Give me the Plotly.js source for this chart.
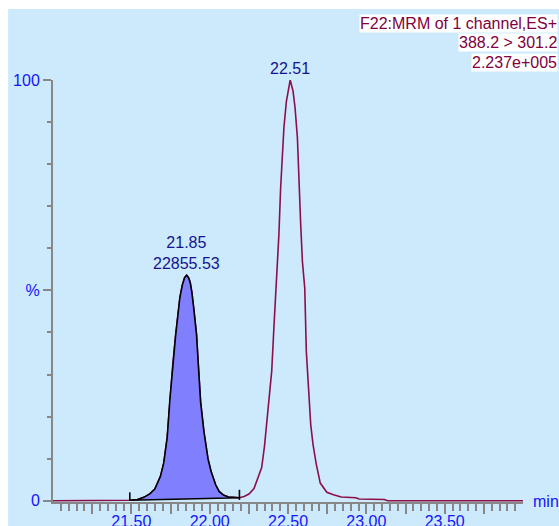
<!DOCTYPE html>
<html>
<head>
<meta charset="utf-8">
<script src="https://cdn.plot.ly/plotly-3.0.1.min.js"></script>
<style>html,body{margin:0;padding:0;background:#fff;}</style>
</head>
<body>
<div id="chart" style="width:559px;height:526px;"></div>
<script>
// Chromatogram (retention time in minutes, relative intensity in %)
const time = [21.00, 21.49, 21.54, 21.58, 21.62, 21.65, 21.686, 21.707, 21.729, 21.746, 21.765, 21.782, 21.797, 21.81, 21.825, 21.84, 21.853, 21.865, 21.876, 21.886, 21.899, 21.916, 21.928, 21.942, 21.963, 21.989, 22.01, 22.038, 22.06, 22.09, 22.12, 22.19,
  22.22, 22.251, 22.283, 22.332, 22.35, 22.368, 22.383, 22.396, 22.41, 22.426, 22.432, 22.442, 22.453, 22.464, 22.474, 22.49, 22.503, 22.514,
  22.532, 22.545, 22.56, 22.57, 22.581, 22.592, 22.607, 22.617, 22.632, 22.645, 22.66, 22.681, 22.706, 22.748, 22.79, 22.84, 22.933, 22.954, 23.114, 23.136, 24.00];
const intensity = [0, 0.1, 0.3, 0.8, 1.7, 2.8, 5.8, 9.0, 15.0, 24.0, 32.5, 39.0, 44.0, 48.3, 51.2, 53.0, 53.6, 53.0, 51.8, 49.6, 45.5, 39.5, 32.0, 23.5, 16.5, 10.0, 6.8, 3.8, 2.2, 1.3, 0.9, 0.7,
  1.0, 1.6, 2.9, 7.9, 13.0, 19.7, 26.0, 30.8, 41.1, 51.4, 56.2, 63.3, 74.4, 83.1, 88.7, 95.0, 98.2, 100,
  97.4, 93.4, 86.3, 75.2, 65.7, 56.9, 50.5, 35.5, 24.4, 18.1, 13.3, 8.6, 4.2, 2.0, 1.4, 0.9, 0.7, 0.4, 0.3, 0, 0];

// Integrated peak
const integrationStart = 21.49;
const integrationEnd = 22.19;
const integrationMarkLow = [0, 0.2];
const integrationMarkHigh = [2.0, 2.6];

// Peak labels
const peakLabelTimes = [21.853, 22.514];
const peakLabelHeights = [53.6, 100];
const peakLabelTexts = ["21.85<br>22855.53", "22.51"];

// Header text
const headerLines = ["F22:MRM of 1 channel,ES+", "388.2 > 301.2", "2.237e+005"];

// Axis ticks
const xTickVals = [21.25, 21.5, 21.75, 22.0, 22.25, 22.5, 22.75, 23.0, 23.25, 23.5, 23.75];
const xTickText = ["", "21.50", "", "22.00", "", "22.50", "", "23.00", "", "23.50", ""];
const yTickVals = [0, 50, 100];
const yTickText = ["0", "%", "100"];

const FONT = "Liberation Sans, Arial, sans-serif";
const maroon = "#8c0f4b";
const grey = "#878787";

// build peak polygon from the data
const px = [], py = [];
for (let i = 0; i < time.length; i++) {
  if (time[i] >= integrationStart - 1e-9 && time[i] <= integrationEnd + 1e-9) { px.push(time[i]); py.push(intensity[i]); }
}
px.push(px[0]); py.push(py[0]);

const markX = [integrationStart, integrationStart, null, integrationEnd, integrationEnd];
const markY = [integrationMarkLow[0], integrationMarkHigh[0], null, integrationMarkLow[1], integrationMarkHigh[1]];

const minorX = [];
for (let k = 1; k < 60; k++) { const v = +(21 + k * 0.05).toFixed(2); if (Math.abs(v * 4 - Math.round(v * 4)) > 1e-6) minorX.push(v); }
const minorY = [10, 20, 30, 40, 60, 70, 80, 90];

const traces = [
  {x: time, y: intensity, type: "scatter", mode: "lines", line: {color: maroon, width: 1.6}, hoverinfo: "skip"},
  {x: px, y: py, type: "scatter", mode: "lines", fill: "toself", fillcolor: "#8080ff", line: {color: "#000000", width: 1.6}, hoverinfo: "skip"},
  {x: markX, y: markY, type: "scatter", mode: "lines", line: {color: "#000000", width: 1.6}, hoverinfo: "skip"}
];

const annotations = [];
for (let i = 0; i < peakLabelTexts.length; i++) {
  annotations.push({x: peakLabelTimes[i], y: peakLabelHeights[i], xref: "x", yref: "y", text: peakLabelTexts[i], showarrow: false,
    xanchor: "center", yanchor: "bottom", yshift: 1, font: {family: FONT, size: 16, color: "#14148c"}});
}
const headerY = [1.135, 1.088, 1.042];
for (let i = 0; i < headerLines.length; i++) {
  annotations.push({x: 1.0745, y: headerY[i], xref: "paper", yref: "paper", text: headerLines[i], showarrow: false,
    xanchor: "right", yanchor: "middle", bgcolor: "#ffffff", borderpad: 0, font: {family: FONT, size: 16, color: "#800040"}});
}
annotations.push({x: 1.016, y: 0, xref: "paper", yref: "y", text: "min", showarrow: false, xanchor: "left", yanchor: "middle",
  yshift: -1, font: {family: FONT, size: 16, color: "#1414ff"}});

const layout = {
  width: 559, height: 526,
  margin: {l: 53, r: 36, t: 80, b: 24, pad: 0},
  paper_bgcolor: "#cceafc",
  plot_bgcolor: "rgba(0,0,0,0)",
  showlegend: false,
  font: {family: FONT, size: 16},
  shapes: [
    {type: "rect", xref: "paper", yref: "paper", x0: -0.2, x1: 1.2, y0: 1.168, y1: 1.3, fillcolor: "#ffffff", line: {width: 0}, layer: "below"},
    {type: "rect", xref: "paper", yref: "paper", x0: -0.2, x1: -0.0955, y0: -0.2, y1: 1.3, fillcolor: "#ffffff", line: {width: 0}, layer: "below"}
  ],
  xaxis: {range: [21, 24], showgrid: false, zeroline: false, showline: true, linecolor: grey, linewidth: 2,
    ticks: "outside", ticklen: 10, tickwidth: 2, tickcolor: grey, tickmode: "array", tickvals: xTickVals, ticktext: xTickText,
    ticklabelstandoff: -6,
    tickfont: {family: FONT, size: 16, color: "#1414ff"}, layer: "below traces", fixedrange: true,
    minor: {tickmode: "array", tickvals: minorX, ticks: "outside", ticklen: 7, tickwidth: 2, tickcolor: grey, showgrid: false}},
  yaxis: {range: [-0.3, 100], showgrid: false, zeroline: false, showline: true, linecolor: grey, linewidth: 2,
    ticks: "outside", ticklen: 8, tickwidth: 2, tickcolor: grey, tickmode: "array", tickvals: yTickVals, ticktext: yTickText,
    tickfont: {family: FONT, size: 16, color: "#1414ff"}, layer: "below traces", fixedrange: true,
    minor: {tickmode: "array", tickvals: minorY, ticks: "outside", ticklen: 4, tickwidth: 2, tickcolor: grey, showgrid: false}},
  annotations: annotations
};

Plotly.newPlot("chart", traces, layout, {displayModeBar: false, staticPlot: true});
</script>
</body>
</html>
